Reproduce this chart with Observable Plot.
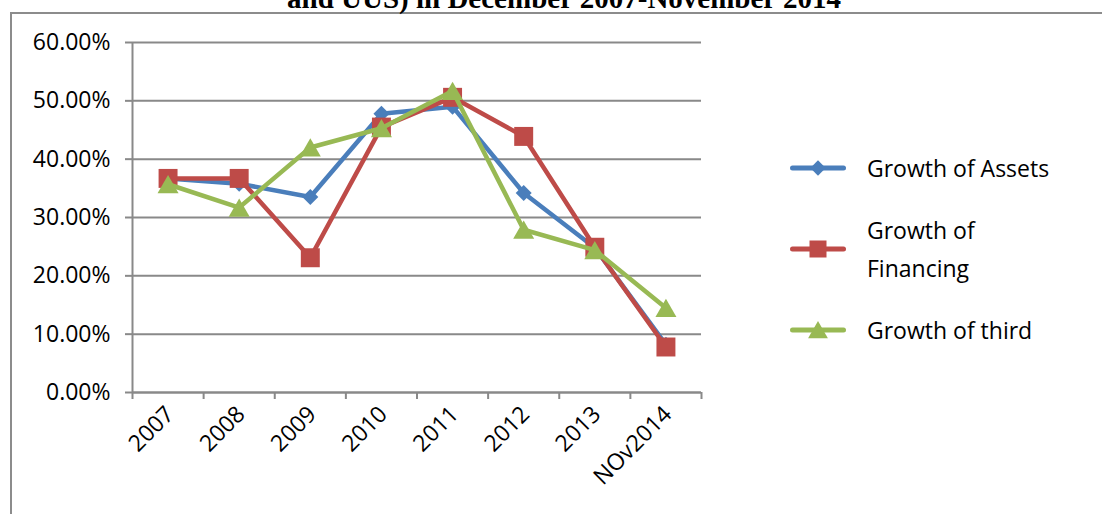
<!DOCTYPE html>
<html><head><meta charset="utf-8">
<script src="https://cdn.jsdelivr.net/npm/d3@7"></script>
<script src="https://cdn.jsdelivr.net/npm/@observablehq/plot@0.6"></script>
<style>
html,body{margin:0;padding:0;background:#fff;overflow:hidden}
#wrap{position:relative;width:1102px;height:514px;overflow:hidden;font-family:"Open Sans",sans-serif;background:#fff}
#title{position:absolute;left:0;width:1128px;text-align:center;top:-16px;font-weight:bold;font-size:29px;font-family:"Liberation Serif",serif;line-height:29px;white-space:nowrap;color:#000}
#frame{position:absolute;left:10px;top:12px;width:1200px;height:600px;border-top:2px solid #8c8c8c;border-left:2px solid #8c8c8c;box-sizing:border-box}
#chart{position:absolute;left:0;top:0}
#legend{position:absolute;left:790px;top:149px;display:flex;flex-direction:column;gap:24px;font-size:23px;line-height:38px;color:#000}
.item{display:flex;align-items:center}
.item svg{flex:none}
.item span{margin-left:21px;width:200px}
</style></head>
<body>
<div id="wrap">
  <div id="frame"></div>
  <div id="chart"></div>
  <div id="title">and UUS) in December 2007-November 2014</div>
  <div id="legend"></div>
</div>
<script>
const categories = ["2007", "2008", "2009", "2010", "2011", "2012", "2013", "NOv2014"];
const seriesNames = ["Growth of Assets", "Growth of Financing", "Growth of third"];
const assets    = [0.367, 0.358, 0.335, 0.478, 0.490, 0.342, 0.248, 0.082];
const financing = [0.367, 0.367, 0.231, 0.455, 0.506, 0.439, 0.249, 0.078];
const third     = [0.357, 0.317, 0.420, 0.453, 0.517, 0.279, 0.244, 0.145];
const yTicks = [0, 0.1, 0.2, 0.3, 0.4, 0.5, 0.6];
const colors = ["#4A7EBB", "#BE4B48", "#98B954"];
const symbols = ["diamond2", "square", "triangle"];

const seriesValues = [assets, financing, third];
const gray = "#898989";
const markerR = {diamond2: 7.2, square: 10.7, triangle: 7.8};
const markerDy = {diamond2: 0, square: 0, triangle: 3};

const rows = seriesValues.map((vals, s) => vals.map((v, i) => ({
  series: seriesNames[s], cat: categories[i], pos: i + 0.5, value: v
})));
const boundaries = d3.range(categories.length + 1);

const marks = [
  Plot.gridY(yTicks, {stroke: gray, strokeOpacity: 1, strokeWidth: 2}),
  Plot.ruleY([0], {stroke: gray, strokeWidth: 2}),
  Plot.ruleX([0], {stroke: gray, strokeWidth: 2}),
  Plot.axisY(yTicks, {tickFormat: d3.format(".2%"), tickSize: 7, tickPadding: 15, stroke: gray, strokeWidth: 2, fill: "#000", fontSize: 23, label: null}),
  Plot.axisX(boundaries, {tickFormat: () => "", tickSize: 7, stroke: gray, strokeWidth: 2, label: null}),
  Plot.text(categories, {x: (d, i) => i + 0.5, y: 0, text: d => d, rotate: -45, textAnchor: "end", dx: 2, dy: 18, fontSize: 23, fill: "#000"})
];
rows.forEach((data, s) => {
  marks.push(Plot.line(data, {x: "pos", y: "value", stroke: colors[s], strokeWidth: 4.5, strokeLinejoin: "round"}));
  marks.push(Plot.dot(data, {x: "pos", y: "value", symbol: symbols[s], fill: colors[s], r: markerR[symbols[s]], dy: markerDy[symbols[s]], stroke: "none"}));
});

const chart = Plot.plot({
  width: 1102, height: 514,
  marginLeft: 132, marginRight: 401, marginTop: 42, marginBottom: 122,
  x: {domain: [0, categories.length], label: null},
  y: {domain: [0, 0.6], label: null},
  style: {fontFamily: "Open Sans, sans-serif", fontSize: "23px", background: "transparent", color: "#000"},
  marks
});
document.getElementById("chart").append(chart);

// legend
const legend = document.getElementById("legend");
const legendSize = {diamond2: 150, square: 289, triangle: 170};
const legendDy = {diamond2: 0, square: 0, triangle: 2.5};
seriesNames.forEach((name, s) => {
  const item = document.createElement("div");
  item.className = "item";
  const symType = {diamond2: d3.symbolDiamond2, square: d3.symbolSquare, triangle: d3.symbolTriangle}[symbols[s]];
  const path = d3.symbol(symType, legendSize[symbols[s]])();
  item.innerHTML = `<svg width="56" height="24"><line x1="2.5" x2="53.5" y1="12" y2="12" stroke="${colors[s]}" stroke-width="5" stroke-linecap="round"/><path d="${path}" transform="translate(28,${12 + legendDy[symbols[s]]})" fill="${colors[s]}"/></svg><span>${name}</span>`;
  legend.append(item);
});
</script>
</body></html>
